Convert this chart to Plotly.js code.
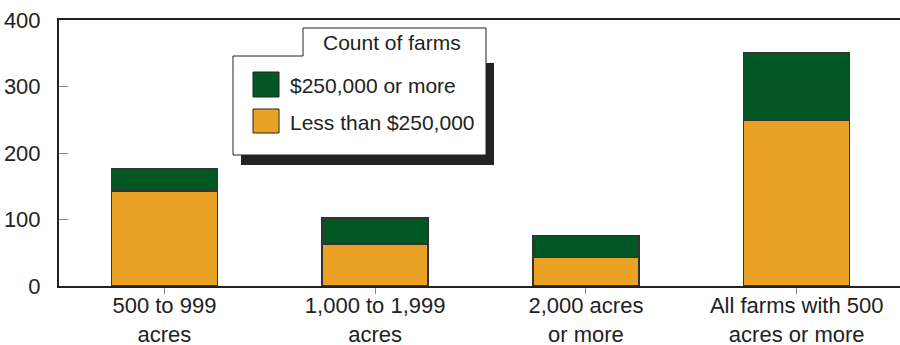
<!DOCTYPE html>
<html>
<head>
<meta charset="utf-8">
<script src="https://cdn.plot.ly/plotly-3.0.1.min.js"></script>
<style>html,body{margin:0;padding:0;background:#fff;}#chart{width:900px;height:345px;}</style>
</head>
<body>
<div id="chart"></div>
<script>
// ---- data ----
const categories = ["500 to 999<br>acres", "1,000 to 1,999<br>acres", "2,000 acres<br>or more", "All farms with 500<br>acres or more"];
const lessThan250k = [143, 63, 43, 249];
const moreThan250k = [33, 39, 33, 102];
const seriesNames = ["$250,000 or more", "Less than $250,000"];
const legendTitle = "Count of farms";
const yTicks = [0, 100, 200, 300, 400];

// ---- styles ----
const GREEN = "#035723";
const ORANGE = "#E9A224";
const INK = "#222222";
const FONT = "Liberation Sans, Arial, Helvetica, sans-serif";

const W = 900, H = 345;
const M = {l: 59, r: 0, t: 20, b: 59};
const PW = W - M.l - M.r, PH = H - M.t - M.b;
const px = x => (x - M.l) / PW;
const py = y => (H - M.b - y) / PH;

const traces = [
  {type: "bar", name: seriesNames[1], x: categories, y: lessThan250k,
   marker: {color: ORANGE, line: {color: "#333", width: 1.5}}, hoverinfo: "skip"},
  {type: "bar", name: seriesNames[0], x: categories, y: moreThan250k,
   marker: {color: GREEN, line: {color: "#333", width: 1.5}}, hoverinfo: "skip"}
];

// custom legend with tab and drop shadow
const shapes = [
  {type: "rect", xref: "paper", yref: "paper", x0: px(241), x1: px(494), y0: py(63), y1: py(165),
   fillcolor: INK, line: {width: 0}, layer: "above"},
  {type: "path", xref: "paper", yref: "paper",
   path: `M${px(233)},${py(56)} L${px(303)},${py(56)} L${px(303)},${py(28)} L${px(486)},${py(28)} L${px(486)},${py(155)} L${px(233)},${py(155)} Z`,
   fillcolor: "#fff", line: {color: INK, width: 1}, layer: "above"},
  {type: "rect", xref: "paper", yref: "paper", x0: px(253), x1: px(279), y0: py(72), y1: py(97),
   fillcolor: GREEN, line: {color: INK, width: 1}, layer: "above"},
  {type: "rect", xref: "paper", yref: "paper", x0: px(253), x1: px(279), y0: py(109), y1: py(133),
   fillcolor: ORANGE, line: {color: INK, width: 1}, layer: "above"}
];
const annotations = [
  {xref: "paper", yref: "paper", x: px(392), y: py(43), text: legendTitle, showarrow: false,
   xanchor: "center", yanchor: "middle", font: {family: FONT, size: 21, color: INK}},
  {xref: "paper", yref: "paper", x: px(288), y: py(85), text: seriesNames[0], showarrow: false,
   xanchor: "left", yanchor: "middle", font: {family: FONT, size: 21, color: INK}},
  {xref: "paper", yref: "paper", x: px(288), y: py(122), text: seriesNames[1], showarrow: false,
   xanchor: "left", yanchor: "middle", font: {family: FONT, size: 21, color: INK}}
];

const layout = {
  width: W, height: H,
  margin: M,
  paper_bgcolor: "#fff", plot_bgcolor: "#fff",
  barmode: "stack", bargap: 0.497,
  showlegend: false,
  font: {family: FONT, size: 22, color: INK},
  xaxis: {
    range: [-0.5, 3.49], showline: true, linecolor: INK, linewidth: 2, mirror: true,
    ticks: "outside", ticklen: 6, tickcolor: "#888", tickwidth: 1,
    ticklabelstandoff: -7,
    showgrid: false, zeroline: false, fixedrange: true,
    tickfont: {family: FONT, size: 22, color: INK}
  },
  yaxis: {
    range: [0, 400], tickvals: yTicks, ticktext: yTicks.map(String),
    showline: true, linecolor: INK, linewidth: 2,
    ticks: "inside", ticklen: 9, tickcolor: "#888", tickwidth: 1,
    ticklabelstandoff: 12,
    showgrid: false, zeroline: false, fixedrange: true,
    tickfont: {family: FONT, size: 22, color: INK}
  },
  shapes: shapes,
  annotations: annotations
};

Plotly.newPlot("chart", traces, layout, {staticPlot: true, displayModeBar: false});
</script>
</body>
</html>
